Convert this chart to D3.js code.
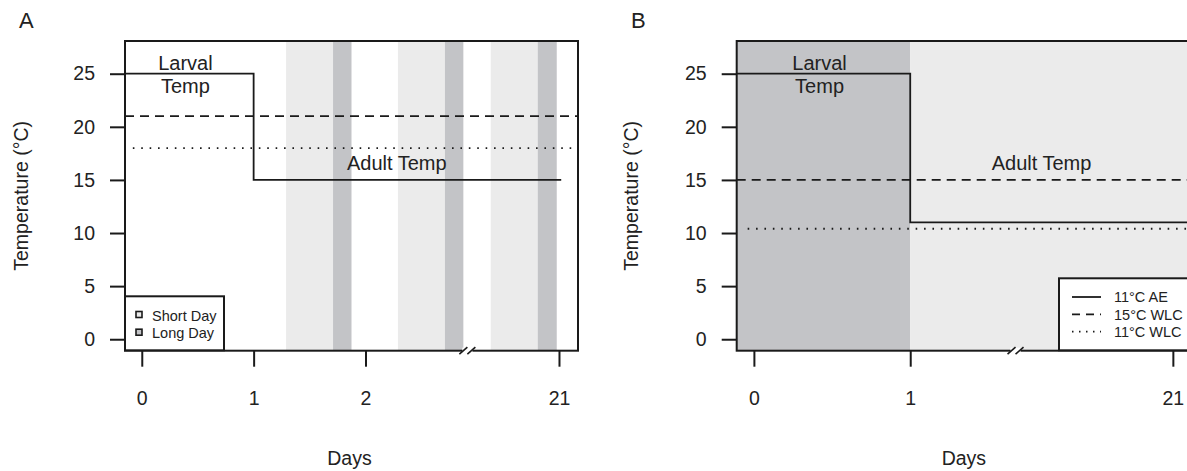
<!DOCTYPE html>
<html>
<head>
<meta charset="utf-8">
<script src="https://cdn.jsdelivr.net/npm/d3@7"></script>
<style>
  body { margin: 0; background: #fff; }
  svg text { font-family: "Liberation Sans", Arial, sans-serif; fill: #222; }
</style>
</head>
<body>
<svg width="1187" height="471"></svg>
<script>
// ---- data ----
let yTicks = [0, 5, 10, 15, 20, 25];

// panel A
let xTicksA = [0, 1, 2, 3.73];
let xLabelsA = ["0", "1", "2", "21"];
let shortDayA = [[1.29, 1.71], [2.29, 2.71], [3.12, 3.54]];
let longDayA = [[1.71, 1.875], [2.71, 2.875], [3.54, 3.71]];
let stepA = [[-0.15, 25], [1, 25], [1, 15], [3.75, 15]];
let dashA = [[-0.15, 21], [3.9, 21]];
let dotA = [[-0.08, 18], [3.85, 18]];
let larvalPosA = [0.39, 25];
let adultPosA = [2.28, 16.6];
let breakA = 2.92;

// panel B
let xTicksB = [0, 1, 2.68];
let xLabelsB = ["0", "1", "21"];
let larvalBandB = [[-0.11, 1]];
let adultBandB = [[1, 2.86]];
let stepB = [[-0.11, 25], [1, 25], [1, 11], [2.86, 11]];
let dashB = [[-0.11, 15], [2.86, 15]];
let dotB = [[-0.04, 10.4], [2.86, 10.4]];
let larvalPosB = [0.42, 25];
let adultPosB = [1.84, 16.6];
let breakB = 1.68;

let legendA = ["Short Day", "Long Day"];
let legendB = ["11°C AE", "15°C WLC", "11°C WLC"];

// ---- setup ----
let svg = d3.select("svg");
let lightGray = "#ebebeb";
let darkGray = "#c3c4c7";
let ink = "#1a1a1a";

let plotTop = 41, plotBottom = 350.7;
let y = d3.scaleLinear().domain([-1.08, 28.08]).range([plotBottom, plotTop]);

function panel(opt) {
    let x = d3.scaleLinear().domain(opt.xDomain).range([opt.left, opt.right]);
    let g = svg.append("g");
    let clip = "clip" + opt.name;
    svg.append("clipPath").attr("id", clip).append("rect")
        .attr("x", opt.left).attr("y", plotTop)
        .attr("width", opt.right - opt.left).attr("height", plotBottom - plotTop);
    let inner = g.append("g").attr("clip-path", "url(#" + clip + ")");

    // background bands
    opt.bands.forEach(b => {
        inner.selectAll(null).data(b.data).enter().append("rect")
            .attr("x", d => x(d[0]))
            .attr("width", d => x(d[1]) - x(d[0]))
            .attr("y", plotTop).attr("height", plotBottom - plotTop)
            .attr("fill", b.color);
    });

    let line = d3.line().x(d => x(d[0])).y(d => y(d[1]));
    inner.append("path").attr("d", line(opt.step))
        .attr("fill", "none").attr("stroke", ink).attr("stroke-width", 1.8);
    inner.append("path").attr("d", line(opt.dash))
        .attr("fill", "none").attr("stroke", ink).attr("stroke-width", 1.8)
        .attr("stroke-dasharray", "9,6");
    inner.append("path").attr("d", line(opt.dot))
        .attr("fill", "none").attr("stroke", ink).attr("stroke-width", 1.8)
        .attr("stroke-dasharray", "1.6,6.8");

    // text labels
    let lt = g.append("text").attr("text-anchor", "middle").style("font-size", "20px");
    lt.append("tspan").attr("x", x(opt.larval[0])).attr("y", y(opt.larval[1]) - 4).text("Larval");
    lt.append("tspan").attr("x", x(opt.larval[0])).attr("y", y(opt.larval[1]) + 19).text("Temp");
    g.append("text").attr("text-anchor", "middle").style("font-size", "20px")
        .attr("x", x(opt.adult[0])).attr("y", y(opt.adult[1]) + 7).text("Adult Temp");

    // frame
    g.append("rect").attr("x", opt.left).attr("y", plotTop)
        .attr("width", opt.right - opt.left).attr("height", plotBottom - plotTop)
        .attr("fill", "none").attr("stroke", ink).attr("stroke-width", 2);

    // y axis
    let yAxis = d3.axisLeft(y).tickValues(yTicks).tickSize(15).tickPadding(15);
    let ya = g.append("g").attr("transform", "translate(" + opt.left + ",0)").call(yAxis);
    ya.select(".domain").remove();
    ya.selectAll("line").attr("stroke", ink).attr("stroke-width", 2);
    ya.selectAll("text").style("font-size", "19.5px").attr("fill", "#222")
        .style("font-family", "Liberation Sans, Arial, sans-serif");

    // x axis
    let xAxis = d3.axisBottom(x).tickValues(opt.xTicks)
        .tickFormat((d, i) => opt.xLabels[i]).tickSize(16).tickPadding(24);
    let xa = g.append("g").attr("transform", "translate(0," + plotBottom + ")").call(xAxis);
    xa.select(".domain").remove();
    xa.selectAll("line").attr("stroke", ink).attr("stroke-width", 2);
    xa.selectAll("text").style("font-size", "19.5px").attr("fill", "#222")
        .style("font-family", "Liberation Sans, Arial, sans-serif");

    // axis break mark
    let bx = x(opt.brk);
    g.append("rect").attr("x", bx - 6).attr("y", plotBottom - 3).attr("width", 10).attr("height", 6).attr("fill", "#fff");
    [-5, 3].forEach(o => {
        g.append("line").attr("x1", bx + o - 4).attr("y1", plotBottom + 3.5)
            .attr("x2", bx + o + 4).attr("y2", plotBottom - 3.5)
            .attr("stroke", ink).attr("stroke-width", 1.6);
    });

    // titles
    g.append("text").attr("x", (opt.left + Math.min(opt.right, 1187)) / 2 + opt.daysShift).attr("y", 465)
        .attr("text-anchor", "middle").style("font-size", "19.5px").text("Days");
    g.append("text")
        .attr("transform", "translate(" + opt.ylabX + "," + (plotTop + plotBottom) / 2 + ") rotate(-90)")
        .attr("text-anchor", "middle").attr("dominant-baseline", "middle")
        .style("font-size", "19.5px").text("Temperature (°C)");
    g.append("text").attr("x", opt.letterX).attr("y", 28).style("font-size", "22px").text(opt.name);
    return { g: g, x: x };
}

let pA = panel({
    name: "A", left: 125, right: 578, xDomain: [-0.15, 3.9],
    xTicks: xTicksA, xLabels: xLabelsA,
    bands: [{ data: shortDayA, color: lightGray }, { data: longDayA, color: darkGray }],
    step: stepA, dash: dashA, dot: dotA, larval: larvalPosA, adult: adultPosA,
    brk: breakA, ylabX: 23, letterX: 19, daysShift: -2
});

let pB = panel({
    name: "B", left: 736.7, right: 1201, xDomain: [-0.11, 2.86],
    xTicks: xTicksB, xLabels: xLabelsB,
    bands: [{ data: larvalBandB, color: darkGray }, { data: adultBandB, color: lightGray }],
    step: stepB, dash: dashB, dot: dotB, larval: larvalPosB, adult: adultPosB,
    brk: breakB, ylabX: 633, letterX: 631, daysShift: 2
});

// legend A
let la = pA.g.append("g");
la.append("rect").attr("x", 125).attr("y", 296.3).attr("width", 99).attr("height", 54)
    .attr("fill", "#fff").attr("stroke", ink).attr("stroke-width", 2);
la.selectAll(null).data(legendA).enter().append("rect")
    .attr("x", 136).attr("y", (d, i) => 312 + i * 17.7 - 0.5)
    .attr("width", 6).attr("height", 6)
    .attr("fill", (d, i) => i == 0 ? lightGray : darkGray)
    .attr("stroke", ink).attr("stroke-width", 1.6);
la.selectAll(null).data(legendA).enter().append("text")
    .attr("x", 152).attr("y", (d, i) => 320.5 + i * 17.7)
    .style("font-size", "14.5px").text(d => d);

// legend B
let dashes = [null, "8,6", "1.5,5.5"];
let lb = pB.g.append("g");
lb.append("rect").attr("x", 1059).attr("y", 278.3).attr("width", 160).attr("height", 72)
    .attr("fill", "#fff").attr("stroke", ink).attr("stroke-width", 2);
lb.selectAll(null).data(legendB).enter().append("line")
    .attr("x1", 1072).attr("x2", 1101)
    .attr("y1", (d, i) => 297 + i * 17.3).attr("y2", (d, i) => 297 + i * 17.3)
    .attr("stroke", ink).attr("stroke-width", 1.8)
    .attr("stroke-dasharray", (d, i) => dashes[i]);
lb.selectAll(null).data(legendB).enter().append("text")
    .attr("x", 1114).attr("y", (d, i) => 302.3 + i * 17.3)
    .style("font-size", "14.5px").text(d => d);
</script>
</body>
</html>
